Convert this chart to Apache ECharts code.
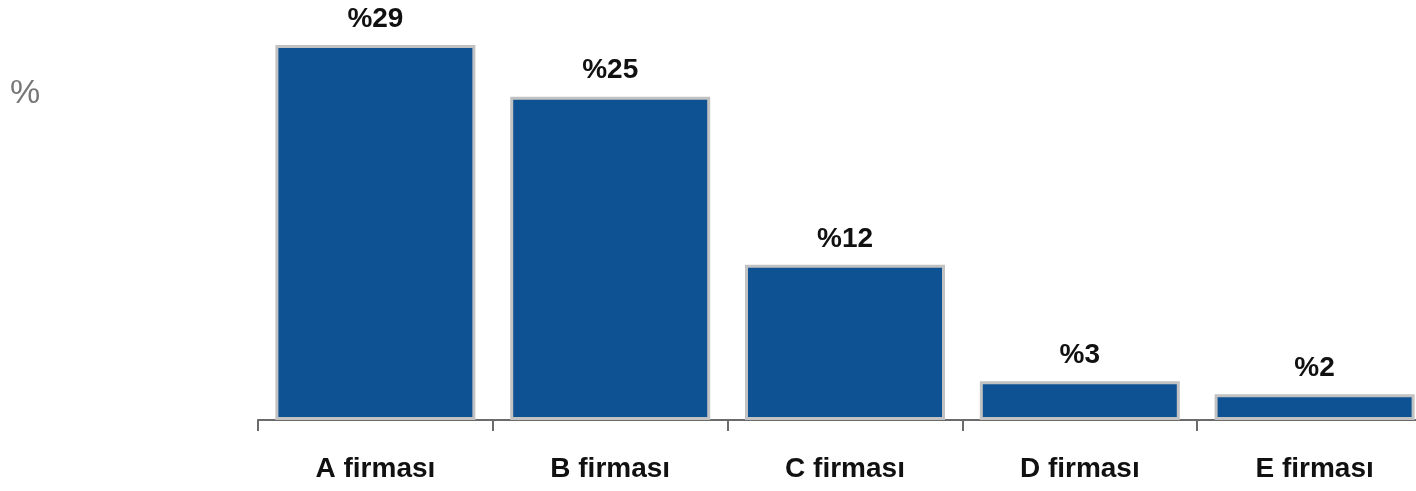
<!DOCTYPE html>
<html>
<head>
<meta charset="utf-8">
<script src="https://cdn.jsdelivr.net/npm/echarts@6/dist/echarts.min.js"></script>
<style>
  html, body { margin: 0; padding: 0; background: #fff; overflow: hidden; }
  /* the last category band runs slightly past the right edge of the page */
  #chart { width: 1432px; height: 491px; }
</style>
</head>
<body>
<div id="chart"></div>
<script>
// Market share by company (percent)
const categories = ['A firması', 'B firması', 'C firması', 'D firması', 'E firması'];
const shares = [29, 25, 12, 3, 2];
const unitLabel = '%';

const FONT = '"Liberation Sans", Arial, sans-serif';

const chart = echarts.init(document.getElementById('chart'), null, { renderer: 'canvas' });
chart.setOption({
  animation: false,
  backgroundColor: '#ffffff',
  graphic: [{
    type: 'text',
    left: 10,
    top: 77,
    style: { text: unitLabel, fontFamily: FONT, fontSize: 34, fill: '#777777' }
  }],
  grid: { left: 258, top: 32, right: 0, height: 388 },
  xAxis: {
    type: 'category',
    data: categories,
    axisLine: { lineStyle: { color: '#6b6b6b', width: 2 } },
    axisTick: { show: true, length: 11, lineStyle: { color: '#6b6b6b', width: 2 } },
    axisLabel: { fontFamily: FONT, fontSize: 28, fontWeight: 'bold', color: '#111111', margin: 35 }
  },
  yAxis: {
    type: 'value',
    min: 0,
    max: 30,
    show: false,
    splitLine: { show: false }
  },
  series: [{
    type: 'bar',
    data: shares,
    barWidth: 200,
    itemStyle: { color: '#0f5294', borderColor: '#c2c2c2', borderWidth: 3 },
    label: {
      show: true,
      position: 'top',
      distance: 12,
      formatter: p => '%' + p.value,
      fontFamily: FONT,
      fontSize: 28,
      fontWeight: 'bold',
      color: '#111111'
    }
  }]
});
</script>
</body>
</html>
